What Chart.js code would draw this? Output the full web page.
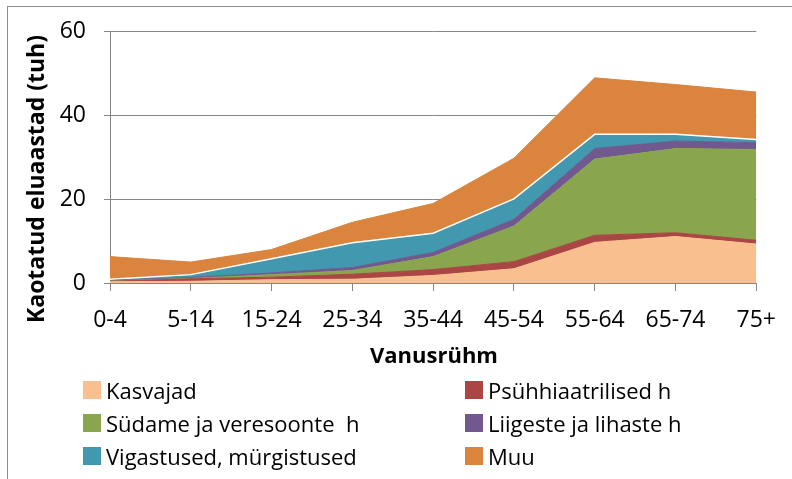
<!DOCTYPE html>
<html>
<head>
<meta charset="utf-8">
<script src="https://cdn.jsdelivr.net/npm/chart.js@4/dist/chart.umd.min.js"></script>
<style>
  html, body { margin: 0; padding: 0; background: #fff; overflow: hidden; }
  #wrap { position: relative; width: 792px; height: 479px; }
  #frame {
    position: absolute; left: 7px; top: 6px; width: 900px; height: 600px;
    border: 1px solid #8e8e8e;
  }
  #lossChart { position: absolute; left: 0; top: 0; }
  #legend {
    position: absolute; left: 83px; top: 381px;
    display: grid; grid-template-columns: 382px 300px; grid-auto-rows: 33px;
    font-family: "Open Sans", sans-serif; font-size: 22px; color: #000;
  }
  .item { display: flex; align-items: center; height: 18px; white-space: pre; }
  .box { width: 18px; height: 18px; margin-right: 5px; flex: none; }
</style>
</head>
<body>
<div id="wrap">
  <div id="frame"></div>
  <canvas id="lossChart" width="792" height="479"></canvas>
  <div id="legend"></div>
</div>
<script>
  const ageGroups = ["0-4", "5-14", "15-24", "25-34", "35-44", "45-54", "55-64", "65-74", "75+"];

  // thousand years of life lost, by cause
  const kasvajad = [0.3, 0.4, 0.8, 0.9, 1.8, 3.4, 9.7, 11.1, 9.3];
  const psyhhiaatrilised = [0.1, 0.6, 0.6, 1.2, 1.4, 1.7, 1.7, 0.9, 0.9];
  const sydame = [0.1, 0.1, 0.6, 0.9, 3.1, 8.5, 18.2, 20.1, 21.7];
  const liigeste = [0.1, 0.2, 0.4, 0.7, 1.0, 1.6, 2.5, 1.8, 1.6];
  const vigastused = [0.3, 0.7, 3.4, 5.9, 4.6, 4.9, 3.4, 1.6, 0.8];
  const muu = [5.4, 3.0, 2.2, 4.9, 7.1, 9.7, 13.5, 11.9, 11.3];

  const yTicks = [0, 20, 40, 60];

  const seriesNames = [
    "Kasvajad", "Psühhiaatrilised h", "Südame ja veresoonte  h",
    "Liigeste ja lihaste h", "Vigastused, mürgistused", "Muu",
  ];
  const seriesColors = ["#F9BF8F", "#AA4643", "#89A54E", "#71588F", "#4198AF", "#DB843D"];
  const seriesData = [kasvajad, psyhhiaatrilised, sydame, liigeste, vigastused, muu];

  const gridGray = "#868686";
  const tickFont = { family: "'Open Sans', sans-serif", size: 23 };

  // axis titles drawn by hand so they sit where the original has them
  const axisTitles = {
    id: "axisTitles",
    afterDraw(chart) {
      const c = chart.ctx;
      c.save();
      c.fillStyle = "#000";
      c.textAlign = "center";
      c.textBaseline = "middle";
      c.font = "bold 22px 'Open Sans', sans-serif";
      c.fillText("Vanusrühm", 434, 357);
      c.font = "bold 23px 'Open Sans', sans-serif";
      c.translate(37, 179);
      c.rotate(-Math.PI / 2);
      c.fillText("Kaotatud eluaastad (tuh)", 0, 0);
      c.restore();
    },
  };

  const ctxLoss = document.getElementById("lossChart").getContext("2d");

  const lossChart = new Chart(ctxLoss, {
    type: "line",
    data: {
      labels: ageGroups,
      datasets: seriesData.map((values, i) => ({
        label: seriesNames[i],
        data: values,
        backgroundColor: seriesColors[i],
        borderColor: i == 4 ? "#ffffff" : seriesColors[i],
        borderWidth: i == 4 ? 1.5 : 1,
        fill: i == 0 ? "origin" : "-1",
        pointRadius: 0,
        tension: 0,
      })),
    },
    options: {
      responsive: false,
      animation: false,
      layout: { padding: { top: 27, right: 35, left: 0, bottom: 0 } },
      plugins: {
        legend: { display: false },
        tooltip: { enabled: false },
      },
      scales: {
        x: {
          offset: false,
          grid: { drawOnChartArea: false, color: gridGray, tickLength: 8 },
          border: { color: gridGray },
          ticks: { color: "#000", font: tickFont, padding: 16, maxRotation: 0, autoSkip: false },
          afterFit: (scale) => { scale.height = 196; },
        },
        y: {
          stacked: true,
          min: 0,
          max: 60,
          grid: { color: gridGray, tickLength: 6 },
          border: { color: gridGray },
          ticks: { color: "#000", font: tickFont, padding: 18 },
          afterBuildTicks: (scale) => { scale.ticks = yTicks.map((v) => ({ value: v })); },
          afterFit: (scale) => { scale.width = 110; },
        },
      },
    },
    plugins: [axisTitles],
  });

  // legend in two columns, like the original
  const legendEl = document.getElementById("legend");
  seriesNames.forEach((name, i) => {
    const item = document.createElement("div");
    item.className = "item";
    item.innerHTML = '<span class="box" style="background:' + seriesColors[i] + '"></span>';
    item.appendChild(document.createTextNode(name));
    legendEl.appendChild(item);
  });
</script>
</body>
</html>
